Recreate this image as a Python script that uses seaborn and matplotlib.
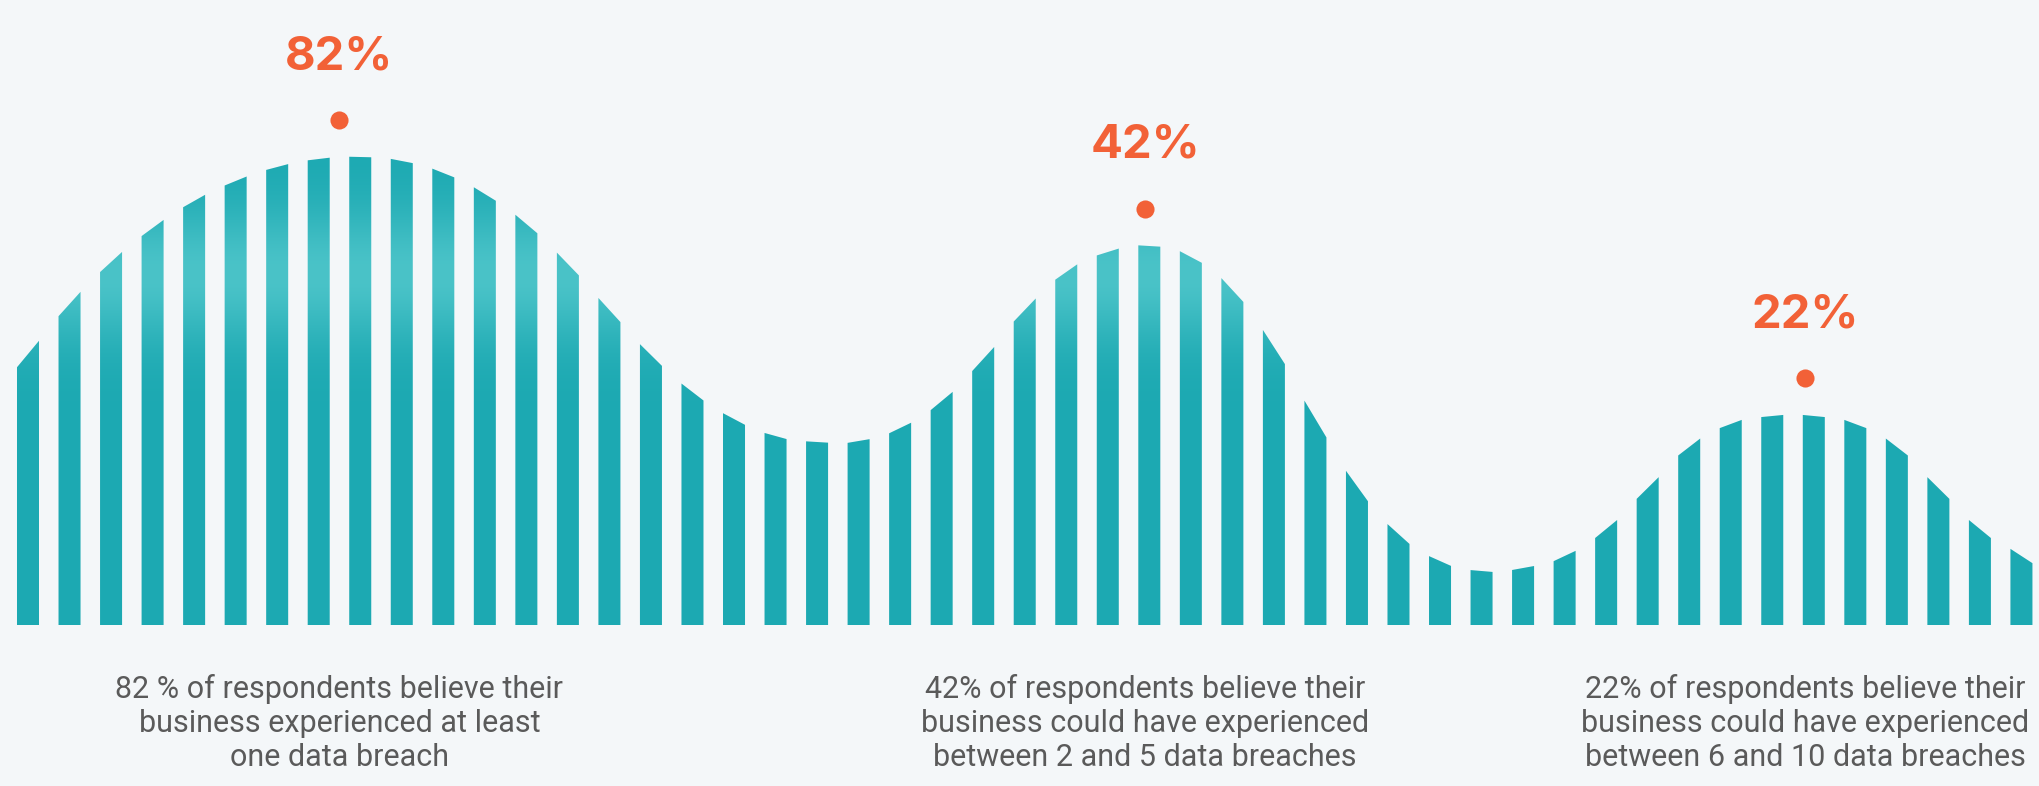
#!/usr/bin/env python3
"""Wave bar chart: share of respondents reporting data breaches."""
import numpy as np
import pandas as pd
import matplotlib
matplotlib.use('Agg')
import matplotlib.pyplot as plt
import seaborn as sns
from matplotlib.path import Path
from matplotlib.patches import PathPatch

# Bar heights of the decorative wave, left to right
wave_heights = [271, 321, 363, 397, 424, 444, 458, 466, 468, 464, 452, 431, 401, 361, 315,
                270, 233, 206, 189, 183, 184, 197, 224, 266, 315, 353, 373, 379, 368, 335,
                278, 206, 139, 91, 64, 54, 57, 69, 96, 137, 178, 201, 209, 209, 201, 178,
                137, 96, 69]

# Highlighted peaks (position along the wave, in bar index units)
peak_labels = ['82%', '42%', '22%']
peak_positions = [7.5, 26.9, 42.8]
captions = [
    '82 % of respondents believe their\nbusiness experienced at least\none data breach',
    '42% of respondents believe their\nbusiness could have experienced\nbetween 2 and 5 data breaches',
    '22% of respondents believe their\nbusiness could have experienced\nbetween 6 and 10 data breaches',
]

BG = '#F4F7F9'
TEAL_DARK = np.array([0x1C, 0xA9, 0xB2]) / 255
TEAL_LIGHT = np.array([0x4A, 0xC3, 0xC8]) / 255
ORANGE = '#F26137'
GREY = '#5A5A5A'


def main():
    sns.set_style('white')
    plt.rcParams['font.family'] = ['Roboto', 'DejaVu Sans']

    df = pd.DataFrame({'idx': np.arange(len(wave_heights)), 'height': wave_heights})

    fig = plt.figure(figsize=(20.39, 7.86), dpi=100, facecolor=BG)
    ax = fig.add_axes([0, 161 / 786, 1, 625 / 786])
    ax.set_facecolor('none')

    sns.barplot(data=df, x='idx', y='height', color='#1CA9B2', saturation=1,
                width=0.53, ax=ax)

    # slanted bar tops following the wave
    slope = np.gradient(df['height'].values.astype(float))
    verts, codes = [], []
    for p, h, s in zip(ax.patches, df['height'], slope):
        x0, w = p.get_x(), p.get_width()
        h0, h1 = h - s * w / 2, h + s * w / 2
        verts += [(x0, 0), (x0 + w, 0), (x0 + w, h1), (x0, h0), (x0, 0)]
        codes += [Path.MOVETO, Path.LINETO, Path.LINETO, Path.LINETO, Path.CLOSEPOLY]
        p.set_visible(False)
    clip = PathPatch(Path(verts, codes), facecolor='none', edgecolor='none')
    ax.add_patch(clip)

    # vertical colour gradient (lighter band around mid height)
    ys = np.linspace(625, 0, 626)
    band = np.exp(-((ys - 351) / 65.0) ** 2)
    colors = TEAL_DARK[None, :] + band[:, None] * (TEAL_LIGHT - TEAL_DARK)[None, :]
    xmin, xmax = -28 / 41.53, (2039 - 28) / 41.53
    im = ax.imshow(colors[:, None, :], extent=[xmin, xmax, 0, 625], aspect='auto',
                   interpolation='bilinear', zorder=2)
    im.set_clip_path(clip)

    # peak markers and labels
    dot_y = np.interp(peak_positions, df['idx'], df['height']) + 38
    sns.scatterplot(x=peak_positions, y=dot_y, color=ORANGE, s=170, linewidth=0,
                    ax=ax, zorder=3)
    for pos, y, label, cap in zip(peak_positions, dot_y, peak_labels, captions):
        ax.text(pos, y + 51, label, ha='center', va='baseline', fontsize=34,
                fontweight='bold', color=ORANGE, family=['Inter', 'DejaVu Sans'])
        ax.text(pos, -98, cap, ha='center', va='center', fontsize=22,
                color=GREY, linespacing=1.2, clip_on=False)

    ax.set_xlim(xmin, xmax)
    ax.set_ylim(0, 625)
    ax.set_axis_off()

    fig.savefig('out.png', dpi=100, facecolor=BG)
    plt.close(fig)


if __name__ == '__main__':
    main()
